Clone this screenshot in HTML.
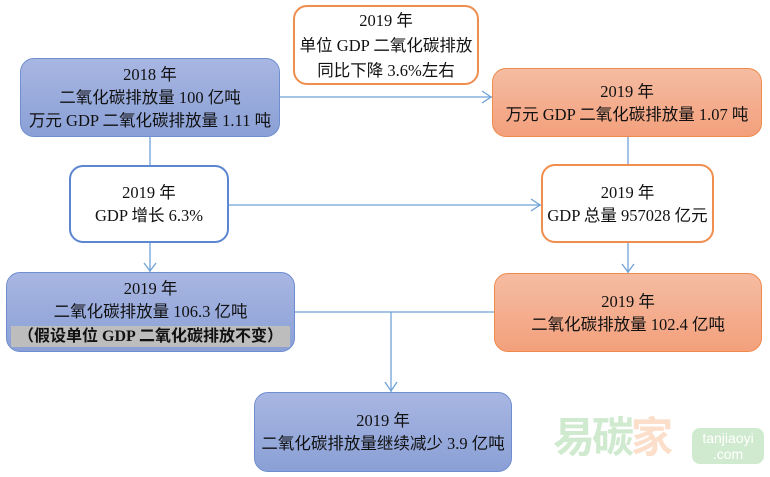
<!DOCTYPE html>
<html><head><meta charset="utf-8"><style>
body{margin:0;width:770px;height:477px;background:#fff;position:relative;overflow:hidden;font-family:"Liberation Serif","Noto Sans CJK SC",serif;color:#111;}
.b{position:absolute;box-sizing:border-box;border-radius:14px;display:flex;flex-direction:column;justify-content:center;align-items:center;text-align:center;font-size:16.5px;line-height:23px;white-space:nowrap;}
.blue{background:linear-gradient(#a8b6e2,#8aa0d6);border:1.5px solid #6f8ecf;}
.or{background:linear-gradient(#f5bca2,#f3a07c);border:1.5px solid #f08a4a;}
.wo{background:#fff;border:2px solid #ef8e4e;}
.wb{background:#fff;border:2px solid #5b86d0;}
svg{position:absolute;left:0;top:0}
</style></head><body>
<svg width="770" height="477">
<g stroke="#6fa2d8" stroke-width="1.3" fill="none">
<line x1="280" y1="97" x2="492" y2="97"/><polyline points="482,91 491,97 482,103"/>
<line x1="150" y1="137" x2="150" y2="166"/>
<line x1="150" y1="243" x2="150" y2="272"/><polyline points="144,263 150,271 156,263"/>
<line x1="228" y1="205" x2="541" y2="205"/><polyline points="531,199 540,205 531,211"/>
<line x1="628" y1="137" x2="628" y2="165"/>
<line x1="628" y1="243" x2="628" y2="273"/><polyline points="622,264 628,272 634,264"/>
<line x1="295" y1="312" x2="495" y2="312"/>
<line x1="391" y1="312" x2="391" y2="392"/><polyline points="385,382 391,391 397,382"/>
</g>
</svg>
<div class="b wo" style="left:293px;top:5px;width:186px;height:80px;line-height:25px;">2019 年<br>单位 GDP 二氧化碳排放<br>同比下降 3.6%左右</div>
<div class="b blue" style="left:20px;top:58px;width:260px;height:79px;">2018 年<br>二氧化碳排放量 100 亿吨<br>万元 GDP 二氧化碳排放量 1.11 吨</div>
<div class="b or" style="left:492px;top:68px;width:270px;height:69px;">2019 年<br>万元 GDP 二氧化碳排放量 1.07 吨</div>
<div class="b wb" style="left:69px;top:165px;width:160px;height:78px;">2019 年<br>GDP 增长 6.3%</div>
<div class="b wo" style="left:541px;top:164px;width:173px;height:79px;">2019 年<br>GDP 总量 957028 亿元</div>
<div class="b blue" style="left:6px;top:272px;width:289px;height:80px;justify-content:flex-start;padding-top:4px;">2019 年<br>二氧化碳排放量 106.3 亿吨
<div style="background:#bdbdbd;width:279px;height:21px;line-height:21px;font-weight:bold;margin-top:3px;font-size:16px;">（假设单位 GDP 二氧化碳排放不变）</div></div>
<div class="b or" style="left:494px;top:273px;width:268px;height:79px;">2019 年<br>二氧化碳排放量 102.4 亿吨</div>
<div class="b blue" style="left:254px;top:392px;width:258px;height:80px;">2019 年<br>二氧化碳排放量继续减少 3.9 亿吨</div>
<div style="position:absolute;left:553px;top:410px;font-family:'Noto Sans CJK SC',sans-serif;font-size:42px;font-weight:bold;line-height:50px;letter-spacing:-3px;"><span style="color:#cfeacf">易碳</span><span style="color:#fbdfcb">家</span></div>
<div style="position:absolute;left:692px;top:428px;width:72px;height:36px;background:#cfeacf;border-radius:8px;color:#fff;font-family:'Liberation Sans',sans-serif;font-size:14px;line-height:16px;text-align:center;padding-top:2px;box-sizing:border-box;">tanjiaoyi<br>.com</div>
</body></html>
